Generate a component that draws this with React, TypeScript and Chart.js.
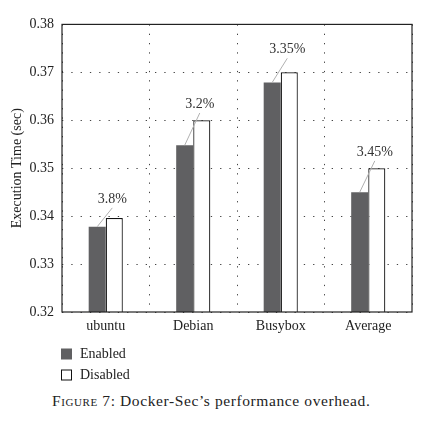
import React, { useEffect, useRef } from "react";
import { Chart, registerables } from "chart.js";

Chart.register(...registerables);

const categories = ["ubuntu", "Debian", "Busybox", "Average"];
const enabledValues = [0.3378, 0.3548, 0.3679, 0.345];
const disabledValues = [0.3396, 0.36, 0.37, 0.35];
const overheadLabels = ["3.8%", "3.2%", "3.35%", "3.45%"];
const overheadLabelAt = [0.3436, 0.3634, 0.3748, 0.3534];
const yTicks = [0.32, 0.33, 0.34, 0.35, 0.36, 0.37, 0.38];

const FONT = "'Liberation Serif', 'Times New Roman', serif";

const framePlugin = {
  id: "frameAndNotes",
  afterDatasetsDraw(chart: any) {
    const { ctx } = chart;
    const yScale = chart.scales.y;
    const m0 = chart.getDatasetMeta(0);
    const m1 = chart.getDatasetMeta(1);
    ctx.save();
    ctx.font = `14px ${FONT}`;
    ctx.textAlign = "center";
    ctx.textBaseline = "middle";
    for (let i = 0; i < categories.length; i++) {
      const e0 = m0.data[i];
      const e1 = m1.data[i];
      const lx = e1.x - 2;
      const ly = yScale.getPixelForValue(overheadLabelAt[i]);
      ctx.strokeStyle = "#b0b0b0";
      ctx.lineWidth = 1;
      ctx.beginPath();
      ctx.moveTo(e0.x, e0.y);
      ctx.lineTo(lx, ly + 9);
      ctx.stroke();
      ctx.fillStyle = "#333";
      ctx.fillText(overheadLabels[i], lx, ly);
    }
    ctx.restore();
  },
  afterDraw(chart: any) {
    const { ctx, chartArea } = chart;
    ctx.save();
    ctx.strokeStyle = "#222";
    ctx.lineWidth = 1.2;
    ctx.strokeRect(
      chartArea.left,
      chartArea.top,
      chartArea.right - chartArea.left,
      chartArea.bottom - chartArea.top
    );
    const items = chart.data.datasets;
    ctx.font = `14px ${FONT}`;
    ctx.textAlign = "left";
    ctx.textBaseline = "middle";
    items.forEach((ds: any, i: number) => {
      const cy = 346 + i * 21;
      const x = 53.5;
      ctx.fillStyle = ds.backgroundColor;
      ctx.fillRect(x, cy - 5, 10, 10);
      ctx.strokeStyle = ds.borderColor;
      ctx.lineWidth = 1;
      ctx.strokeRect(x, cy - 5, 10, 10);
      ctx.fillStyle = "#222";
      ctx.fillText(ds.label, 72, cy);
    });
    ctx.restore();
  },
};

export default function App() {
  const ref = useRef<HTMLCanvasElement | null>(null);
  useEffect(() => {
    if (!ref.current) return;
    Chart.defaults.font.family = FONT;
    Chart.defaults.font.size = 14;
    Chart.defaults.color = "#222";
    const chart = new Chart(ref.current, {
      type: "bar",
      data: {
        labels: categories,
        datasets: [
          {
            label: "Enabled",
            data: enabledValues,
            backgroundColor: "#606062",
            borderColor: "#606062",
            borderWidth: 0,
            categoryPercentage: 0.39,
            barPercentage: 1,
          },
          {
            label: "Disabled",
            data: disabledValues,
            backgroundColor: "#ffffff",
            borderColor: "#111111",
            borderWidth: 1.2,
            categoryPercentage: 0.39,
            barPercentage: 1,
          },
        ],
      },
      options: {
        responsive: false,
        animation: false,
        layout: { padding: { left: 0, right: 25, top: 16, bottom: 0 } },
        plugins: { legend: { display: false }, tooltip: { enabled: false } },
        scales: {
          x: {
            afterFit(scale: any) {
              scale.height = 76;
            },
            grid: { color: "#444", lineWidth: 1, drawTicks: false, offset: true },
            border: { display: false, dash: [1.3, 8] },
            ticks: { padding: 6, color: "#222", font: { size: 14 } },
          },
          y: {
            min: 0.32,
            max: 0.38,
            afterFit(scale: any) {
              scale.width = 54;
            },
            afterBuildTicks(scale: any) {
              scale.ticks = yTicks.map((v) => ({ value: v }));
            },
            grid: { color: "#444", lineWidth: 1, drawTicks: false },
            border: { display: false, dash: [1.3, 8] },
            ticks: {
              padding: 8,
              color: "#222",
              font: { size: 14 },
              callback: (v: any) => Number(v).toFixed(2),
            },
            title: {
              display: true,
              text: "Execution Time (sec)",
              color: "#222",
              font: { size: 14 },
              padding: { top: 1, bottom: 0 },
            },
          },
        },
      },
      plugins: [framePlugin],
    });
    return () => chart.destroy();
  }, []);

  return (
    <div style={{ width: 429 }}>
      <canvas ref={ref} width={429} height={380} style={{ display: "block" }} />
      <div
        style={{
          fontFamily: FONT,
          fontSize: 15.5,
          lineHeight: "18px",
          letterSpacing: "0.6px",
          marginTop: 4,
          paddingLeft: 44,
          color: "#222",
          whiteSpace: "nowrap",
        }}
      >
        <span style={{ fontVariant: "small-caps" }}>Figure</span> 7: Docker-Sec’s performance overhead.
      </div>
    </div>
  );
}
